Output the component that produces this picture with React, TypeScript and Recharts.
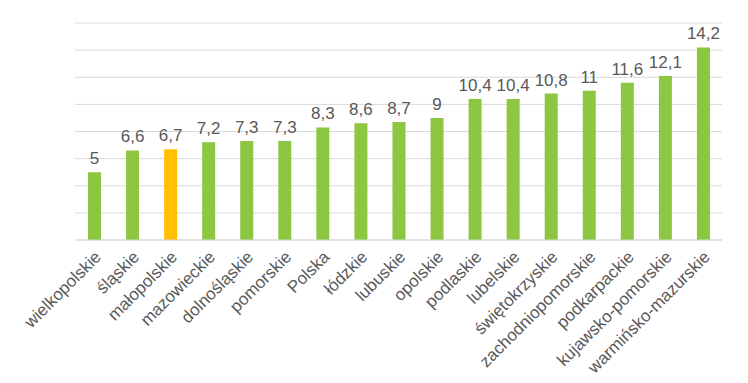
import { BarChart, Bar, XAxis, YAxis, CartesianGrid, LabelList, Cell } from "recharts"

const REGIONS = [
  "wielkopolskie", "śląskie", "małopolskie", "mazowieckie", "dolnośląskie", "pomorskie",
  "Polska", "łódzkie", "lubuskie", "opolskie", "podlaskie", "lubelskie", "świętokrzyskie",
  "zachodniopomorskie", "podkarpackie", "kujawsko-pomorskie", "warmińsko-mazurskie",
]
const VALUES = [5, 6.6, 6.7, 7.2, 7.3, 7.3, 8.3, 8.6, 8.7, 9, 10.4, 10.4, 10.8, 11, 11.6, 12.1, 14.2]
const Y_TICKS = [0, 2, 4, 6, 8, 10, 12, 14, 16]
const HIGHLIGHT = "małopolskie"

const GREEN = "#8DC641"
const YELLOW = "#FFC000"
const TEXT = "#595959"
const FONT = "'Liberation Sans', Arial, sans-serif"

const data = REGIONS.map((name, i) => ({ name, value: VALUES[i] }))

function Tick({ x, y, payload }: any) {
  return (
    <g transform={`translate(${x + 8},${y + 10})`}>
      <text textAnchor="end" transform="rotate(-45)" fill={TEXT} fontSize={17} fontFamily={FONT}>
        {payload.value}
      </text>
    </g>
  )
}

export default function App() {
  return (
    <div style={{ position: "absolute", left: 0, top: 0, width: 748, height: 383, background: "#fff" }}>
      <BarChart width={748} height={383} data={data} margin={{ top: 23, right: 26, left: 75, bottom: 0 }}>
        <CartesianGrid vertical={false} stroke="#D9D9D9" />
        <YAxis hide domain={[0, 16]} ticks={Y_TICKS} />
        <XAxis dataKey="name" height={143} interval={0} tick={<Tick />} tickLine={false} axisLine={{ stroke: "#D9D9D9" }} />
        <Bar dataKey="value" barSize={13} isAnimationActive={false}>
          {data.map((d) => (
            <Cell key={d.name} fill={d.name === HIGHLIGHT ? YELLOW : GREEN} />
          ))}
          <LabelList
            dataKey="value"
            position="top"
            offset={8}
            fill={TEXT}
            fontSize={17}
            fontFamily={FONT}
            formatter={(v: any) => String(v).replace(".", ",")}
          />
        </Bar>
      </BarChart>
    </div>
  )
}
